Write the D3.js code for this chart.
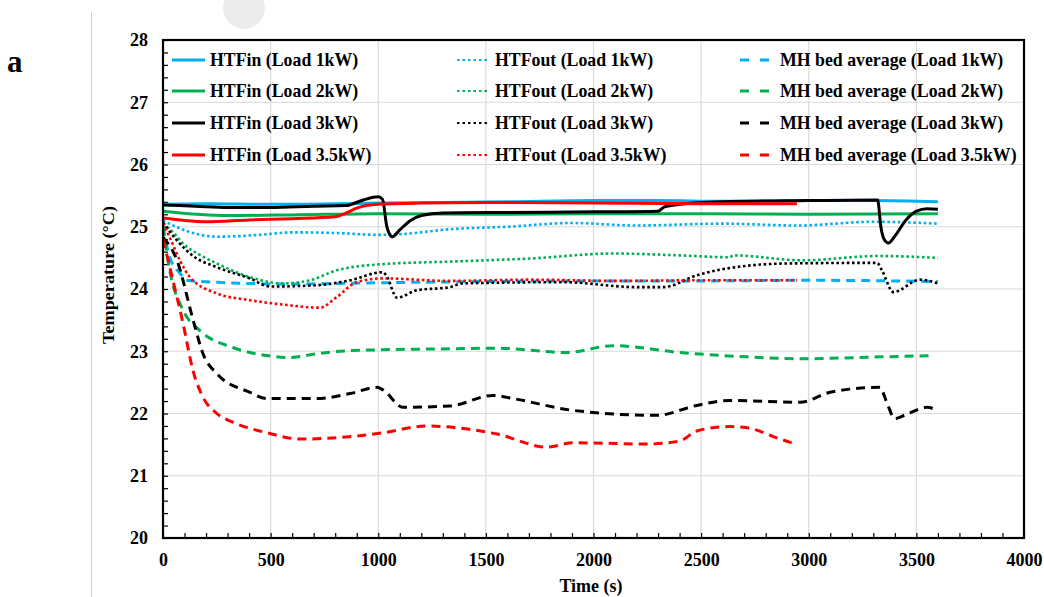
<!DOCTYPE html>
<html><head><meta charset="utf-8">
<script src="https://cdn.jsdelivr.net/npm/d3@7"></script>
<style>
html,body{margin:0;padding:0;background:#fff;}
svg{display:block;}
svg text{font-family:"Liberation Serif","Times New Roman",serif;font-weight:bold;fill:#000;}
</style></head>
<body>
<svg id="chart" width="1044" height="597"></svg>
<script>
// ---- data ----
const xTicks = [0, 500, 1000, 1500, 2000, 2500, 3000, 3500, 4000];
const yTicks = [20, 21, 22, 23, 24, 25, 26, 27, 28];

const htfin1kW = [[0,25.36],[200,25.37],[500,25.36],[800,25.37],[1000,25.38],[1300,25.39],[1600,25.40],[2000,25.42],[2300,25.42],[2600,25.41],[3000,25.42],[3300,25.42],[3600,25.40]];
const htfout1kW = [[0,25.10],[60,25.0],[120,24.92],[250,24.84],[450,24.87],[600,24.91],[800,24.90],[1000,24.87],[1100,24.88],[1333,24.96],[1600,25.00],[1900,25.06],[2200,25.02],[2600,25.05],[2950,25.02],[3300,25.08],[3600,25.05]];
const mh1kW = [[0,25.0],[31,24.51],[80,24.25],[110,24.14],[300,24.10],[600,24.08],[1000,24.10],[1500,24.12],[2000,24.13],[2500,24.13],[3000,24.14],[3600,24.12]];

const htfin2kW = [[0,25.25],[300,25.18],[600,25.19],[1000,25.21],[1500,25.20],[2000,25.21],[2500,25.21],[3000,25.20],[3600,25.21]];
const htfout2kW = [[0,25.05],[50,24.90],[93,24.73],[170,24.55],[250,24.41],[404,24.19],[558,24.09],[683,24.14],[807,24.30],[1022,24.40],[1333,24.44],[1705,24.49],[2091,24.57],[2402,24.54],[2634,24.51],[2648,24.54],[2973,24.46],[3317,24.53],[3600,24.50]];
const mh2kW = [[0,25.0],[31,24.30],[93,23.66],[172,23.33],[325,23.06],[483,22.93],[590,22.90],[714,22.96],[869,23.01],[1333,23.04],[1550,23.05],[1877,22.98],[2091,23.09],[2402,22.98],[2713,22.91],[2973,22.88],[3331,22.91],[3577,22.93]];

const htfin3kW = [[0,25.35],[150,25.33],[300,25.31],[500,25.31],[700,25.33],[850,25.34],[930,25.43],[1000,25.48],[1020,25.44],[1040,25.0],[1065,24.84],[1100,24.95],[1150,25.10],[1200,25.18],[1300,25.22],[1600,25.23],[2000,25.24],[2300,25.25],[2330,25.32],[2400,25.36],[2600,25.40],[3000,25.42],[3320,25.43],[3335,25.0],[3350,24.80],[3370,24.74],[3400,24.85],[3450,25.10],[3500,25.25],[3550,25.29],[3600,25.28]];
const htfout3kW = [[0,25.07],[60,24.80],[140,24.53],[250,24.35],[404,24.17],[497,24.04],[714,24.06],[869,24.14],[1022,24.27],[1040,24.20],[1087,23.86],[1180,23.98],[1333,24.03],[1394,24.09],[1858,24.11],[2202,24.03],[2325,24.03],[2480,24.22],[2588,24.31],[2898,24.41],[3317,24.42],[3340,24.30],[3393,23.95],[3517,24.15],[3600,24.09]];
const mh3kW = [[0,24.83],[65,24.46],[140,23.50],[186,22.96],[250,22.64],[404,22.34],[483,22.24],[714,22.24],[869,22.32],[994,22.42],[1022,22.38],[1115,22.10],[1333,22.12],[1533,22.29],[1626,22.24],[1905,22.05],[2295,21.97],[2480,22.13],[2634,22.21],[2959,22.18],[3099,22.34],[3331,22.42],[3360,22.20],[3400,21.92],[3450,21.98],[3550,22.10],[3600,22.04]];

const htfin35kW = [[0,25.14],[100,25.10],[200,25.08],[400,25.11],[600,25.13],[800,25.16],[850,25.22],[900,25.30],[1000,25.36],[1200,25.38],[1500,25.39],[2000,25.38],[2500,25.37],[2945,25.37]];
const htfout35kW = [[0,25.05],[31,24.83],[80,24.45],[125,24.19],[250,23.93],[404,23.82],[558,23.75],[729,23.70],[807,23.87],[900,24.11],[1022,24.17],[1333,24.13],[1700,24.15],[2100,24.13],[2500,24.14],[2945,24.14]];
const mh35kW = [[0,24.80],[46,24.14],[93,23.45],[140,22.68],[186,22.26],[250,22.0],[325,21.86],[483,21.69],[637,21.59],[807,21.61],[1022,21.69],[1226,21.80],[1366,21.77],[1552,21.67],[1784,21.46],[1905,21.53],[2249,21.51],[2402,21.56],[2480,21.72],[2634,21.79],[2713,21.77],[2867,21.59],[2927,21.52]];

const seriesNames = [
  "HTFin (Load 1kW)","HTFout (Load 1kW)","MH bed average (Load 1kW)",
  "HTFin (Load 2kW)","HTFout (Load 2kW)","MH bed average (Load 2kW)",
  "HTFin (Load 3kW)","HTFout (Load 3kW)","MH bed average (Load 3kW)",
  "HTFin (Load 3.5kW)","HTFout (Load 3.5kW)","MH bed average (Load 3.5kW)"
];

// ---- layout / style ----
const colors = {"1kW":"#00b0f0","2kW":"#00b050","3kW":"#000000","3.5kW":"#ff0000"};
const styles = {
  solid:{w:3,dash:null},
  dotted:{w:2.6,dash:"2.6,2.6"},
  dashed:{w:3,dash:"9,6"}
};
const series = [
  {name:seriesNames[0],data:htfin1kW,c:colors["1kW"],s:"solid"},
  {name:seriesNames[1],data:htfout1kW,c:colors["1kW"],s:"dotted"},
  {name:seriesNames[2],data:mh1kW,c:colors["1kW"],s:"dashed"},
  {name:seriesNames[3],data:htfin2kW,c:colors["2kW"],s:"solid"},
  {name:seriesNames[4],data:htfout2kW,c:colors["2kW"],s:"dotted"},
  {name:seriesNames[5],data:mh2kW,c:colors["2kW"],s:"dashed"},
  {name:seriesNames[6],data:htfin3kW,c:colors["3kW"],s:"solid"},
  {name:seriesNames[7],data:htfout3kW,c:colors["3kW"],s:"dotted"},
  {name:seriesNames[8],data:mh3kW,c:colors["3kW"],s:"dashed"},
  {name:seriesNames[9],data:htfin35kW,c:colors["3.5kW"],s:"solid"},
  {name:seriesNames[10],data:htfout35kW,c:colors["3.5kW"],s:"dotted"},
  {name:seriesNames[11],data:mh35kW,c:colors["3.5kW"],s:"dashed"}
];

const svg = d3.select("#chart");
const L = 163, R = 1024, T = 40, B = 538;
const x = d3.scaleLinear().domain([0,4000]).range([L,R]);
const y = d3.scaleLinear().domain([20,28]).range([B,T]);

// decorations
svg.append("circle").attr("cx",244).attr("cy",8).attr("r",21).attr("fill","#ececec");
svg.append("line").attr("x1",91.5).attr("x2",91.5).attr("y1",12).attr("y2",597).attr("stroke","#d0d0d0").attr("stroke-width",1);
svg.append("text").attr("x",7).attr("y",72).attr("font-size",31).text("a");

// gridlines
const g = svg.append("g");
g.selectAll(".gy").data(yTicks.filter(d=>d>20&&d<28)).enter().append("line")
  .attr("x1",L).attr("x2",R).attr("y1",d=>y(d)).attr("y2",d=>y(d))
  .attr("stroke","#d9d9d9").attr("stroke-width",1.2);
g.selectAll(".gx").data(xTicks.filter(d=>d>0&&d<4000)).enter().append("line")
  .attr("y1",T).attr("y2",B).attr("x1",d=>x(d)).attr("x2",d=>x(d))
  .attr("stroke","#d9d9d9").attr("stroke-width",1.2);

// axes with inward ticks
const yMinor = d3.range(20,28.0001,0.2);
const xMinor = d3.range(0,4000.1,100);
const yAxis = d3.axisLeft(y).tickValues(yMinor).tickSize(-5).tickFormat("");
const xAxis = d3.axisBottom(x).tickValues(xMinor).tickSize(-5).tickFormat("");
svg.append("g").attr("transform",`translate(${L},0)`).call(yAxis).call(s=>{s.select(".domain").remove();s.selectAll("line").attr("stroke","#000").attr("stroke-width",1.2);});
svg.append("g").attr("transform",`translate(0,${B})`).call(xAxis).call(s=>{s.select(".domain").remove();s.selectAll("line").attr("stroke","#000").attr("stroke-width",1.2);});

// tick labels
const fmt = d3.format("d");
svg.append("g").attr("transform",`translate(${L},0)`)
  .call(d3.axisLeft(y).tickValues(yTicks).tickSize(0).tickPadding(15).tickFormat(fmt))
  .call(s=>{s.select(".domain").remove();s.selectAll("text").attr("font-size",18).attr("font-family",null).attr("fill","#000");});
svg.append("g").attr("transform",`translate(0,${B})`)
  .call(d3.axisBottom(x).tickValues(xTicks).tickSize(0).tickPadding(15).tickFormat(fmt))
  .call(s=>{s.select(".domain").remove();s.selectAll("text").attr("font-size",18).attr("font-family",null).attr("fill","#000");});

svg.append("text").attr("x",591).attr("y",592).attr("text-anchor","middle").attr("font-size",18).text("Time (s)");
svg.append("text").attr("transform","translate(114,275) rotate(-90)").attr("text-anchor","middle").attr("font-size",17.5)
  .attr("textLength",138).attr("lengthAdjust","spacingAndGlyphs").text("Temperature (°C)");

// lines
const line = d3.line().x(d=>x(d[0])).y(d=>y(d[1])).curve(d3.curveMonotoneX);
svg.append("clipPath").attr("id","clp").append("rect").attr("x",L).attr("y",T).attr("width",R-L).attr("height",B-T);
const lg = svg.append("g").attr("clip-path","url(#clp)");
series.forEach(s=>{
  lg.append("path").attr("d",line(s.data)).attr("fill","none").attr("stroke",s.c)
    .attr("stroke-width",styles[s.s].w).attr("stroke-dasharray",styles[s.s].dash)
    .attr("stroke-linejoin","round");
});

// frame
svg.append("rect").attr("x",L).attr("y",T).attr("width",R-L).attr("height",B-T)
  .attr("fill","none").attr("stroke","#000").attr("stroke-width",2.2);

// legend
const colX = [{lx:172,tx:210},{lx:457,tx:495},{lx:740,tx:780}];
const rowY = [60,91,123,155];
const typeCol = {solid:0,dotted:1,dashed:2};
series.forEach((s,i)=>{
  const col = colX[typeCol[s.s]];
  const r = Math.floor(i/3);
  const yy = rowY[r];
  const len = s.s==="dashed" ? 30 : 33;
  svg.append("line").attr("x1",col.lx).attr("x2",col.lx+len).attr("y1",yy).attr("y2",yy)
    .attr("stroke",s.c).attr("stroke-width",s.s==="dotted"?2.2:3)
    .attr("stroke-dasharray",s.s==="dashed"?"9,11":(s.s==="dotted"?"2.5,3":null));
  svg.append("text").attr("x",col.tx).attr("y",yy+6).attr("font-size",17.8).text(s.name);
});
</script>
</body></html>
